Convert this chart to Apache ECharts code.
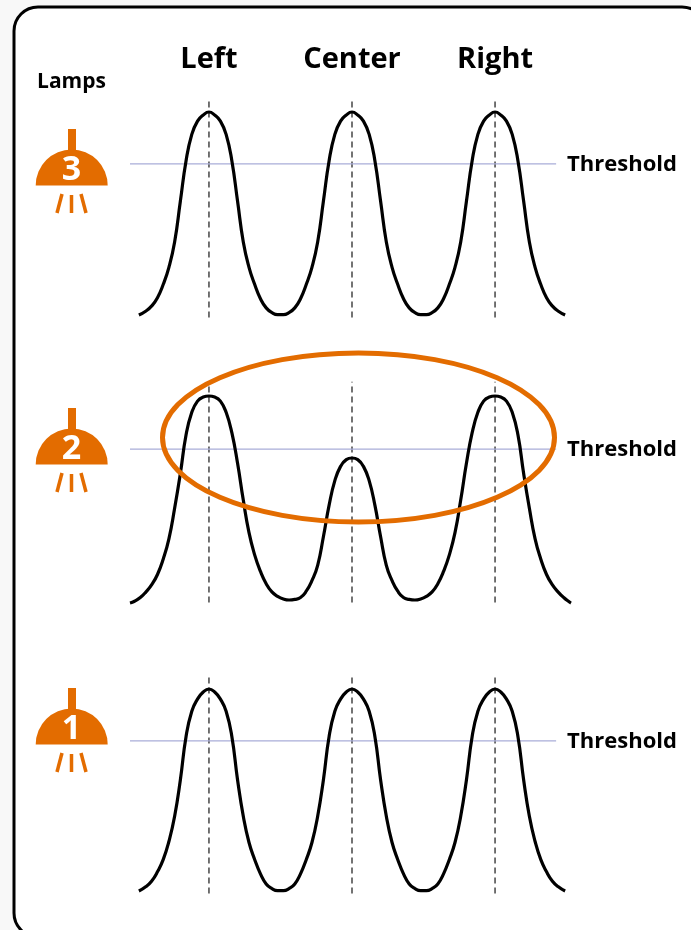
<!DOCTYPE html>
<html><head><meta charset="utf-8">
<style>html,body{margin:0;padding:0;background:#f8f8f8}#c{width:691px;height:930px}</style>
<script src="https://cdn.jsdelivr.net/npm/echarts@6/dist/echarts.min.js"></script>
</head><body><div id="c"></div>
<script>
// Data: positions (Left=-100, Center=0, Right=100), relative light level (peak=1)
const columns = ['Left','Center','Right'];
const columnPositions = [-100,0,100];
const lamps = [3,2,1];
const thresholdName = 'Threshold';
const thresholdLevels = [0.744,0.74,0.743];
const thresholdStart = -155.2, thresholdEnd = 142.7;

const positionsOuter = [-149,-144,-140,-136,-132,-128,-124,-120,-116,-112,-108,-104,-100,-96,-92,-88,-84,-80,-76,-72,-68,-64,-60,-56,-52,-48,-44,-40,-36,-32,-28,-24,-20,-16,-12,-8,-4,0,4,8,12,16,20,24,28,32,36,40,44,48,52,56,60,64,68,72,76,80,84,88,92,96,100,104,108,112,116,120,124,128,132,136,140,144,149];
const lamps3 = [0,.02,.045,.085,.15,.235,.36,.56,.76,.89,.955,.985,1,.985,.955,.89,.76,.56,.36,.235,.15,.08,.035,.012,.002,.002,.012,.035,.08,.15,.235,.36,.56,.76,.89,.955,.985,1,.985,.955,.89,.76,.56,.36,.235,.15,.08,.035,.012,.002,.002,.012,.035,.08,.15,.235,.36,.56,.76,.89,.955,.985,1,.985,.955,.89,.76,.56,.36,.235,.15,.085,.045,.02,0];
const lamps1 = [0,.022,.05,.095,.155,.245,.37,.55,.765,.89,.95,.985,1,.985,.95,.89,.765,.55,.37,.24,.155,.085,.035,.012,.002,.002,.012,.035,.085,.155,.24,.37,.55,.765,.89,.95,.985,1,.985,.95,.89,.765,.55,.37,.24,.155,.085,.035,.012,.002,.002,.012,.035,.085,.155,.24,.37,.55,.765,.89,.95,.985,1,.985,.95,.89,.765,.55,.37,.245,.155,.095,.05,.022,0];
const positionsMiddle = [-155.2,-152,-148,-144,-140,-136,-132,-128,-124,-120,-116,-112,-108,-104,-100,-96,-92,-88,-84,-80,-76,-72,-68,-64,-60,-56,-52,-48,-44,-40,-36,-32,-28,-24,-20,-16,-12,-8,-4,0,4,8,12,16,20,24,28,32,36,40,44,48,52,56,60,64,68,72,76,80,84,88,92,96,100,104,108,112,116,120,124,128,132,136,140,144,148,152,153.1];
const lamps2 = [-.015,-.006,.012,.04,.075,.125,.2,.3,.45,.62,.81,.92,.975,.995,1,.995,.975,.92,.82,.67,.49,.33,.22,.14,.08,.04,.018,.005,0,.003,.012,.043,.095,.17,.31,.465,.585,.655,.688,.696,.688,.655,.585,.465,.31,.17,.095,.043,.012,.003,0,.005,.018,.04,.08,.14,.22,.33,.49,.67,.82,.92,.975,.995,1,.995,.975,.92,.81,.62,.45,.3,.2,.125,.075,.04,.012,-.01,-.015];
const curves = [positionsOuter.map((x,k)=>[x,lamps3[k]]), positionsMiddle.map((x,k)=>[x,lamps2[k]]), positionsOuter.map((x,k)=>[x,lamps1[k]])];

// Layout
const FONT = '"Open Sans"';
const ORANGE = '#E36C00';
const peakY = [112,396,689], pxPerUnit = [203,204,202];
const yMin = -0.03, yMax = 1.08, dashLow = -0.012, dashHigh = 1.07;
const lampOffsets = [0,279,559];

const grids = [], xAxes = [], yAxes = [], series = [];
lamps.forEach((n,i)=>{
  grids.push({left:130,width:441,top:peakY[i]-(yMax-1)*pxPerUnit[i],height:(yMax-yMin)*pxPerUnit[i]});
  xAxes.push({gridIndex:i,type:'value',min:-155.2,max:153.1,show:i===0,position:'top',
    axisLine:{show:false},axisTick:{show:false},splitLine:{show:false},
    axisLabel:{customValues:columnPositions,margin:22,color:'#000',fontFamily:FONT,fontWeight:700,fontSize:29,
      formatter:v=>columns[columnPositions.indexOf(v)]}});
  yAxes.push({gridIndex:i,type:'value',min:yMin,max:yMax,show:false,splitLine:{show:false}});
  columnPositions.forEach(p=>series.push({type:'line',xAxisIndex:i,yAxisIndex:i,symbol:'none',silent:true,z:1,
    lineStyle:{color:'#444',width:1.5,type:[6,4]},data:[[p,dashLow],[p,dashHigh]]}));
  series.push({type:'line',xAxisIndex:i,yAxisIndex:i,symbol:'none',silent:true,z:2,
    lineStyle:{color:'#A9ADD8',width:1.2},data:[[thresholdStart,thresholdLevels[i]],[thresholdEnd,thresholdLevels[i]]],
    endLabel:{show:true,formatter:thresholdName,distance:11,offset:[0,1],color:'#000',fontFamily:FONT,fontWeight:700,fontSize:22,align:'left'}});
  series.push({type:'line',xAxisIndex:i,yAxisIndex:i,symbol:'none',silent:true,z:3,smooth:0.5,
    lineStyle:{color:'#000',width:3.2},data:curves[i]});
});

const graphic = [
  {type:'rect',z:-10,shape:{x:14,y:7,width:692,height:930,r:24},style:{fill:'#fff',stroke:'#000',lineWidth:3}},
  {type:'text',z:10,style:{x:71.5,y:82,text:'Lamps',fill:'#000',font:'700 21px '+FONT,textAlign:'center',textVerticalAlign:'middle'}},
  {type:'ellipse',z:100,shape:{cx:358.5,cy:437.5,rx:196,ry:84.5},style:{fill:'none',stroke:ORANGE,lineWidth:5}}
];
lamps.forEach((n,i)=>{
  const d = lampOffsets[i];
  graphic.push({type:'rect',z:10,shape:{x:68,y:129+d,width:8,height:24},style:{fill:ORANGE}});
  graphic.push({type:'sector',z:10,shape:{cx:71.7,cy:185.5+d,r:36,r0:0,startAngle:Math.PI,endAngle:2*Math.PI},style:{fill:ORANGE}});
  [[62,194,57,213],[71.5,195,71.5,213],[81,194,86,213]].forEach(s=>graphic.push({type:'line',z:10,
    shape:{x1:s[0],y1:s[1]+d,x2:s[2],y2:s[3]+d},style:{stroke:ORANGE,lineWidth:3.5}}));
  graphic.push({type:'text',z:11,style:{x:71.5,y:170+d,text:String(n),fill:'#fff',font:'700 34px '+FONT,textAlign:'center',textVerticalAlign:'middle'}});
});

const chart = echarts.init(document.getElementById('c'),null,{renderer:'canvas'});
chart.setOption({animation:false,backgroundColor:'#f8f8f8',grid:grids,xAxis:xAxes,yAxis:yAxes,series,graphic});
</script></body></html>
